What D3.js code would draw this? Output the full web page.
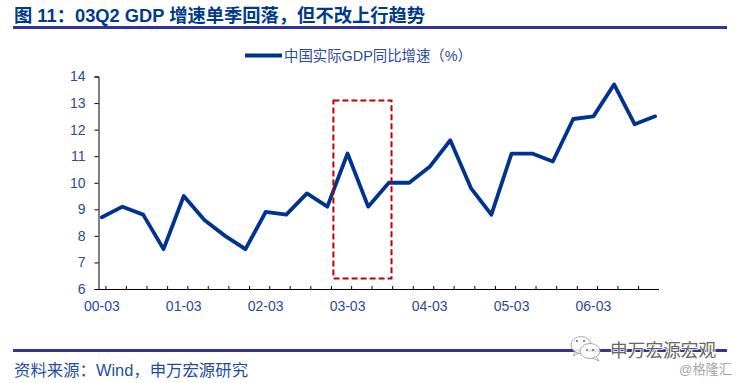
<!DOCTYPE html>
<html>
<head>
<meta charset="utf-8">
<script src="https://cdn.jsdelivr.net/npm/d3@7"></script>
<style>
  html, body { margin: 0; padding: 0; background: #fff; }
  svg { display: block; }
  text { font-family: "Liberation Sans", "Noto Sans CJK SC", sans-serif; }
</style>
</head>
<body>
<svg width="739" height="383"></svg>
<script>
const quarters = ['2000-03-16', '2000-06-16', '2000-09-16', '2000-12-16',
                  '2001-03-16', '2001-06-16', '2001-09-16', '2001-12-16',
                  '2002-03-16', '2002-06-16', '2002-09-16', '2002-12-16',
                  '2003-03-16', '2003-06-16', '2003-09-16', '2003-12-16',
                  '2004-03-16', '2004-06-16', '2004-09-16', '2004-12-16',
                  '2005-03-16', '2005-06-16', '2005-09-16', '2005-12-16',
                  '2006-03-16', '2006-06-16', '2006-09-16', '2006-12-16'];
const gdpGrowth = [8.7, 9.1, 8.8, 7.5,
                   9.5, 8.6, 8.0, 7.5,
                   8.9, 8.8, 9.6, 9.1,
                   11.1, 9.1, 10.0, 10.0,
                   10.6, 11.6, 9.8, 8.8,
                   11.1, 11.1, 10.8, 12.4,
                   12.5, 13.7, 12.2, 12.5];
const yTicks = [6, 7, 8, 9, 10, 11, 12, 13, 14];
const xLabels = ['2000-03', '2001-03', '2002-03', '2003-03', '2004-03', '2005-03', '2006-03'];
const highlightDates = ['2003-01-12', '2003-09-28'];
const highlightValues = [6.4, 13.1];

const titleText = '图 11：03Q2 GDP 增速单季回落，但不改上行趋势';
const legendText = '中国实际GDP同比增速（%）';
const sourceText = '资料来源：Wind，申万宏源研究';

const textBlue = '#2a4a9c';
const lineBlue = '#00338f';
const ruleBlue = '#333399';

const svg = d3.select('svg');
const parseDay = d3.utcParse('%Y-%m-%d');
const data = quarters.map((d, i) => ({ date: parseDay(d), value: gdpGrowth[i] }));

const area = { left: 98.5, right: 658.5, top: 76.5, bottom: 289 };

const scaleX = d3.scaleUtc()
    .domain([parseDay('2000-03-01'), parseDay('2006-12-31')])
    .range([area.left, area.right]);
const scaleY = d3.scaleLinear()
    .domain([6, 14])
    .range([area.bottom, area.top]);

// title and rules
svg.append('text')
   .attr('x', 14).attr('y', 22)
   .attr('font-size', 18.3).attr('font-weight', 'bold')
   .attr('fill', '#003a8c')
   .text(titleText);
svg.append('rect').attr('x', 13).attr('y', 26).attr('width', 714).attr('height', 3).attr('fill', ruleBlue);
svg.append('rect').attr('x', 13).attr('y', 349).attr('width', 714).attr('height', 3).attr('fill', ruleBlue);
svg.append('text')
   .attr('x', 14).attr('y', 375.5)
   .attr('font-size', 16.4)
   .attr('fill', '#1f4e9e')
   .text(sourceText);

// legend
svg.append('line')
   .attr('x1', 245).attr('x2', 282).attr('y1', 55.5).attr('y2', 55.5)
   .attr('stroke', lineBlue).attr('stroke-width', 4);
svg.append('text')
   .attr('x', 284).attr('y', 61)
   .attr('font-size', 14.4)
   .attr('fill', textBlue)
   .text(legendText);

// axes
const axisY = d3.axisLeft(scaleY).tickValues(yTicks).tickSize(4).tickPadding(9);
const gy = svg.append('g').attr('transform', `translate(${area.left}, 0)`).call(axisY);
gy.select('.domain').attr('stroke', '#000').attr('stroke-width', 1);
gy.selectAll('text').attr('font-size', 14).attr('fill', textBlue);

const tickDates = d3.utcMonth.every(3).range(parseDay('2000-03-01'), parseDay('2006-12-31'));
const axisX = d3.axisBottom(scaleX).tickValues(tickDates).tickSize(0).tickFormat('');
const gx = svg.append('g').attr('transform', `translate(0, ${area.bottom})`).call(axisX);
gx.select('.domain').attr('stroke', '#000').attr('stroke-width', 1);
gx.selectAll('.tick line')
  .attr('stroke', '#000')
  .attr('y1', -3)
  .attr('y2', d => d.getUTCMonth() === 2 ? 5 : 0);

svg.selectAll('.x-label')
   .data(xLabels)
   .enter()
   .append('text')
   .attr('class', 'x-label')
   .attr('x', d => scaleX(parseDay(d + '-16')))
   .attr('y', 311)
   .attr('text-anchor', 'middle')
   .attr('font-size', 14)
   .attr('fill', textBlue)
   .text(d => d.slice(2));

// series
const line = d3.line()
    .x(d => scaleX(d.date))
    .y(d => scaleY(d.value));
svg.append('path')
   .datum(data)
   .attr('d', line)
   .attr('fill', 'none')
   .attr('stroke', lineBlue)
   .attr('stroke-width', 3.8)
   .attr('stroke-linejoin', 'round')
   .attr('stroke-linecap', 'round');

// highlighted quarter
const boxX = highlightDates.map(d => scaleX(parseDay(d)));
const boxY = highlightValues.map(scaleY);
svg.append('rect')
   .attr('x', boxX[0]).attr('y', boxY[1])
   .attr('width', boxX[1] - boxX[0]).attr('height', boxY[0] - boxY[1])
   .attr('fill', 'none')
   .attr('stroke', '#c00000')
   .attr('stroke-width', 2)
   .attr('stroke-dasharray', '6 3');

// watermark
const mark = svg.append('g')
    .attr('fill', '#fff').attr('fill-opacity', 0.88)
    .attr('stroke', '#8a8a8a').attr('stroke-width', 0.7);
mark.append('path').attr('d', 'M576 351 L573 356 L579 353 Z');
mark.append('ellipse').attr('cx', 581).attr('cy', 345).attr('rx', 10).attr('ry', 8.5);
mark.append('path').attr('d', 'M596 356 L599 361 L592 358 Z');
mark.append('ellipse').attr('cx', 590).attr('cy', 351).attr('rx', 10).attr('ry', 7.5);
svg.append('g').attr('fill', '#555')
   .selectAll('circle')
   .data([[577, 341], [584, 341], [587, 350], [593, 350]])
   .enter()
   .append('circle')
   .attr('cx', d => d[0]).attr('cy', d => d[1]).attr('r', 0.9);
svg.append('text')
   .attr('x', 610).attr('y', 357)
   .attr('font-size', 17.7)
   .attr('fill', '#666')
   .attr('stroke', '#fff').attr('stroke-width', 1.6).attr('paint-order', 'stroke')
   .text('申万宏源宏观');
svg.append('text')
   .attr('x', 679).attr('y', 374)
   .attr('font-size', 13.2)
   .attr('fill', '#a6a6a6')
   .text('@格隆汇');
</script>
</body>
</html>
